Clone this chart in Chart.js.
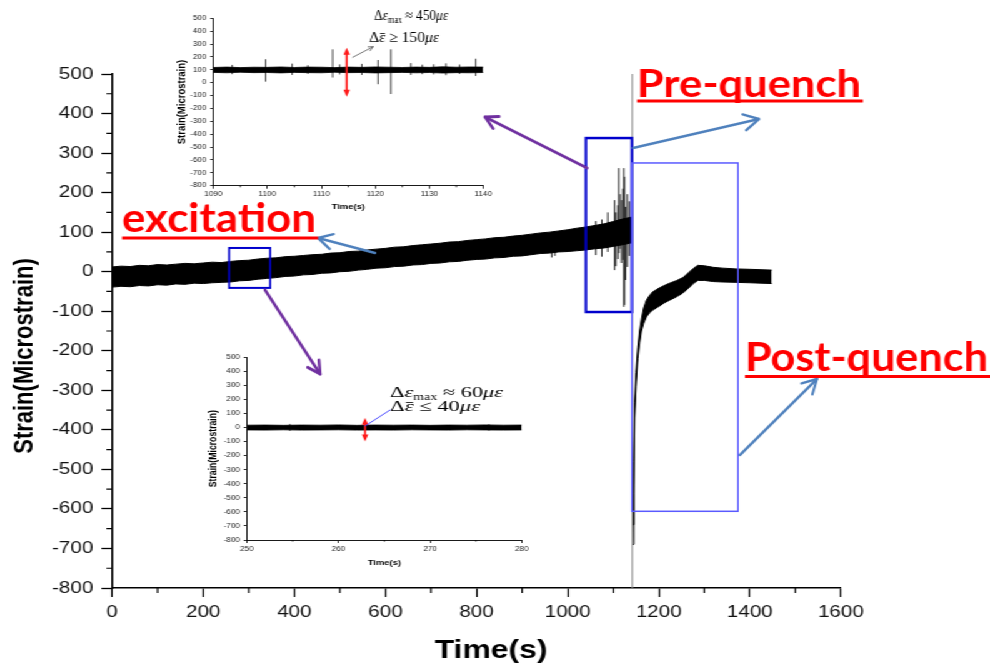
<!DOCTYPE html>
<html>
<head>
<meta charset="utf-8">
<title>Strain vs Time</title>
<script src="https://cdn.jsdelivr.net/npm/chart.js@4.4.1/dist/chart.umd.min.js"></script>
<style>
  html, body { margin:0; padding:0; background:#ffffff; overflow:hidden; }
  #stage { position:absolute; left:0; top:0; width:792px; height:665px; transform:scale(1.25,1); transform-origin:0 0; }
  #stage canvas { position:absolute; }
</style>
</head>
<body>
<div id="stage">
  <canvas id="mainChart" width="792" height="665" style="left:0px;top:0px;width:792px;height:665px;"></canvas>
  <canvas id="inset1" width="272" height="222" style="left:128px;top:0px;width:272px;height:222px;"></canvas>
  <canvas id="inset2" width="272" height="235" style="left:156px;top:340px;width:272px;height:235px;"></canvas>
</div>
<script>
// ================= DATA =================
// Main record: excitation phase (noise band envelopes)
const excTime  = [0,20,40,60,80,100,120,140,160,180,200,220,240,260,280,300,320,340,360,380,400,420,440,460,480,500,520,540,560,580,600,620,640,660,680,700,720,740,760,780,800,820,840,860,880,900,920,940,960,980,1000,1020,1040,1060,1080,1100,1120,1140];
const excUpper = [12,14,13,16,15,18,17,19,21,20,22,24,23,26,28,29,32,34,35,38,39,41,43,44,47,48,51,52,55,57,59,62,63,66,68,70,72,75,76,79,81,83,86,87,90,92,95,98,100,103,106,110,113,117,121,127,133,138];
const excLower = [-39,-37,-38,-35,-36,-33,-34,-31,-32,-29,-30,-28,-27,-26,-23,-22,-19,-17,-15,-12,-11,-8,-7,-4,-3,0,1,4,6,9,10,13,14,17,18,21,22,25,26,29,31,32,35,36,39,40,43,46,47,50,51,53,55,58,60,64,68,73];
// Post-quench recovery band
const postTime  = [1143,1145,1147,1150,1154,1158,1162,1167,1173,1180,1187,1200,1212,1224,1240,1253,1265,1276,1286,1300,1320,1340,1370,1400,1425,1448];
const postUpper = [-640,-480,-330,-255,-192,-150,-120,-92,-72,-60,-51,-42,-35,-29,-22,-15,-3,8,16,15,11,9,7,6,5,4];
const postLower = [-690,-560,-370,-290,-220,-180,-150,-130,-114,-104,-97,-88,-79,-72,-63,-54,-42,-30,-22,-22,-25,-26,-27,-28,-29,-30];
// Pre-quench spikes
const spikeTime   = [965,972,1062,1075,1088,1103,1106,1110,1112,1115,1118,1121,1123,1125,1127,1131,1135];
const spikeTop    = [98,96,128,132,150,181,150,168,262,196,181,210,262,240,164,196,178];
const spikeBottom = [36,40,42,38,50,4,14,32,47,58,22,30,-89,-84,-21,12,40];
// Quench instant
const quenchTime = 1142;
const quenchRange = [-800, 500];
// Main tick labels
const xMajorLabels = [0,200,400,600,800,1000,1200,1400,1600];
const yMajorLabels = [500,400,300,200,100,0,-100,-200,-300,-400,-500,-600,-700,-800];
const xTitle = 'Time(s)';
const yTitle = 'Strain(Microstrain)';

// Inset 1 (1090-1140 s)
const ins1Time  = [1090,1092.5,1095,1097.5,1100,1102.5,1105,1107.5,1110,1112.5,1115,1117.5,1120,1122.5,1125,1127.5,1130,1132.5,1135,1137.5,1140];
const ins1Upper = [118,121,117,120,119,122,118,121,120,117,121,119,122,120,118,121,119,123,120,122,121];
const ins1Lower = [80,77,81,78,79,76,80,78,77,81,78,79,76,78,80,77,79,75,78,77,79];
const ins1SpikeTime   = [1093.5,1099.7,1104.6,1107.5,1112.1,1113.4,1117.5,1120.5,1122.9,1126.6,1128.7,1130.8,1133.1,1135.6,1138.6];
const ins1SpikeTop    = [138,182,148,136,259,142,146,176,259,152,140,143,150,141,186];
const ins1SpikeBottom = [66,8,60,68,40,64,60,-12,-88,60,66,64,58,68,52];
const ins1XLabels = [1090,1100,1110,1120,1130,1140];
const ins1Delta = {t:1114.7, top:272, bottom:-109};

// Inset 2 (250-280 s)
const ins2Time  = [250,252,254,256,258,260,262,264,266,268,270,272,274,276,278,280];
const ins2Upper = [17,18,16,18,17,19,16,18,17,18,16,18,17,19,17,18];
const ins2Lower = [-17,-18,-16,-18,-17,-16,-18,-17,-18,-16,-17,-18,-16,-17,-18,-17];
const ins2SpikeTime   = [254.7,276.4];
const ins2SpikeTop    = [26,24];
const ins2SpikeBottom = [-24,-22];
const ins2XLabels = [250,260,270,280];
const ins2Delta = {t:262.9, top:70, bottom:-100};

// ================= HELPERS =================
const SX = 1.25; // horizontal stretch of the whole picture
const SANS = "'Liberation Sans', Arial, sans-serif";
Chart.defaults.font.family = SANS;
Chart.defaults.color = '#111';

const pts = (xs, ys) => xs.map((t, i) => ({x: t, y: ys[i]}));
function spikePts(ts, tops, bots) {
  const out = [];
  ts.forEach((t, i) => { out.push({x: t, y: bots[i]}, {x: t, y: tops[i]}, {x: t, y: null}); });
  return out;
}

function minorTicks(conf) {
  return {
    id: 'minorTicks',
    afterDraw(chart) {
      const ctx = chart.ctx, xs = chart.scales.x, ys = chart.scales.y;
      ctx.save();
      ctx.strokeStyle = '#000';
      ctx.lineWidth = conf.width;
      ctx.beginPath();
      xs.ticks.forEach(t => {
        if (!conf.xMajor.includes(t.value)) {
          const p = xs.getPixelForValue(t.value);
          ctx.moveTo(p, xs.top); ctx.lineTo(p, xs.top + conf.xLen);
        }
      });
      ys.ticks.forEach(t => {
        if (!conf.yMajor.includes(t.value)) {
          const p = ys.getPixelForValue(t.value);
          ctx.moveTo(ys.right, p); ctx.lineTo(ys.right - conf.yLen, p);
        }
      });
      ctx.stroke();
      ctx.restore();
    }
  };
}

function drawArrow(ctx, a) {
  ctx.save();
  ctx.strokeStyle = a.color; ctx.lineWidth = a.lw; ctx.lineCap = 'round'; ctx.lineJoin = 'round';
  ctx.beginPath(); ctx.moveTo(a.x1, a.y1); ctx.lineTo(a.x2, a.y2); ctx.stroke();
  if (a.head) {
    const ang = Math.atan2(a.y2 - a.y1, a.x2 - a.x1), sp = a.spread || 0.5;
    ctx.beginPath();
    ctx.moveTo(a.x2 - a.head * Math.cos(ang - sp), a.y2 - a.head * Math.sin(ang - sp));
    ctx.lineTo(a.x2, a.y2);
    ctx.lineTo(a.x2 - a.head * Math.cos(ang + sp), a.y2 - a.head * Math.sin(ang + sp));
    ctx.stroke();
  }
  ctx.restore();
}

function drawRedLabel(ctx, l) {
  ctx.save();
  ctx.font = `bold ${l.size}px Lato, 'Open Sans', sans-serif`;
  ctx.fillStyle = '#ff0000';
  ctx.textBaseline = 'alphabetic';
  const w = ctx.measureText(l.text).width;
  ctx.translate(l.x, l.base);
  ctx.scale(l.w / w, 1);
  ctx.fillText(l.text, 0, 0);
  ctx.restore();
  ctx.fillStyle = '#ff0000';
  ctx.fillRect(l.x, l.ul - 1.5, l.ulw, 3);
}

function drawRich(ctx, segs, x, base, size, targetW) {
  const fam = "'Liberation Serif','DejaVu Serif',serif";
  const fontFor = s => `${s.it ? 'italic ' : ''}${s.sub ? size * 0.62 : size}px ${fam}`;
  let w = 0;
  const ws = segs.map(s => { ctx.font = fontFor(s); const m = ctx.measureText(s.t).width; w += m; return m; });
  ctx.save();
  ctx.fillStyle = '#000';
  ctx.textBaseline = 'alphabetic';
  ctx.translate(x, base);
  ctx.scale(targetW / w, 1);
  let cx = 0;
  segs.forEach((s, i) => {
    ctx.font = fontFor(s);
    ctx.fillText(s.t, cx, s.sub ? size * 0.22 : 0);
    if (s.bar) ctx.fillRect(cx + ws[i] * 0.15, -size * 0.6, ws[i] * 0.8, Math.max(0.8, size * 0.05));
    cx += ws[i];
  });
  ctx.restore();
}

function drawDoubleArrow(ctx, x, yTop, yBot, color) {
  const hl = 7, hw = 3.2;
  ctx.save();
  ctx.strokeStyle = color; ctx.fillStyle = color; ctx.lineWidth = 2;
  ctx.beginPath(); ctx.moveTo(x, yTop + hl - 1); ctx.lineTo(x, yBot - hl + 1); ctx.stroke();
  ctx.beginPath(); ctx.moveTo(x, yTop); ctx.lineTo(x - hw, yTop + hl); ctx.lineTo(x + hw, yTop + hl); ctx.closePath(); ctx.fill();
  ctx.beginPath(); ctx.moveTo(x, yBot); ctx.lineTo(x - hw, yBot - hl); ctx.lineTo(x + hw, yBot - hl); ctx.closePath(); ctx.fill();
  ctx.restore();
}

// ================= ANNOTATIONS (page pixels / data coords) =================
const regionBoxes = [
  {t0: 257, t1: 347, v0: -41, v1: 60, color: '#0000cc', lw: 2},
  {t0: 1040, t1: 1141, v0: -102, v1: 338, color: '#0000cc', lw: 2.5},
  {t0: 1141, t1: 1374, v0: -606, v1: 275, color: '#5a5aff', lw: 1.5}
];
const pointerArrows = [
  {x1: 265, y1: 290, x2: 320, y2: 374, color: '#7030a0', lw: 3, head: 14},
  {x1: 587, y1: 168, x2: 485, y2: 117, color: '#7030a0', lw: 3, head: 14},
  {x1: 375, y1: 253, x2: 318, y2: 238, color: '#4f81bd', lw: 2.5, head: 16},
  {x1: 633, y1: 148, x2: 759, y2: 119, color: '#4f81bd', lw: 2.5, head: 17},
  {x1: 740, y1: 455, x2: 817, y2: 379, color: '#4f81bd', lw: 2.5, head: 16}
];
const redLabels = [
  {text: 'excitation', x: 122, base: 231.5, w: 194, size: 40, ul: 238, ulw: 196},
  {text: 'Pre-quench', x: 637, base: 96.5, w: 224, size: 38, ul: 101, ulw: 226},
  {text: 'Post-quench', x: 745, base: 371, w: 243, size: 40, ul: 376.5, ulw: 246}
];
// axis titles: centre positions in page pixels
const axisTitlePos = {x: {cx: 491, cy: 651, size: 25.5}, y: {cx: 25, cy: 356, size: 22}};

const mainAnnot = {
  id: 'mainAnnot',
  afterDraw(chart) {
    const {ctx, scales: {x, y}} = chart;
    // axis titles (stretched with the picture)
    ctx.save();
    ctx.fillStyle = '#000';
    ctx.textAlign = 'center'; ctx.textBaseline = 'middle';
    ctx.font = `bold ${axisTitlePos.x.size}px ${SANS}`;
    ctx.fillText(xTitle, axisTitlePos.x.cx / SX, axisTitlePos.x.cy);
    ctx.translate(axisTitlePos.y.cx / SX, axisTitlePos.y.cy);
    ctx.rotate(-Math.PI / 2);
    ctx.font = `bold ${axisTitlePos.y.size}px ${SANS}`;
    ctx.fillText(yTitle, 0, 0);
    ctx.restore();

    ctx.save();
    ctx.scale(1 / SX, 1);
    const X = v => x.getPixelForValue(v) * SX, Y = v => y.getPixelForValue(v);
    regionBoxes.forEach(b => {
      ctx.strokeStyle = b.color; ctx.lineWidth = b.lw;
      ctx.strokeRect(X(b.t0), Y(b.v1), X(b.t1) - X(b.t0), Y(b.v0) - Y(b.v1));
    });
    pointerArrows.forEach(a => drawArrow(ctx, a));
    redLabels.forEach(l => drawRedLabel(ctx, l));
    ctx.restore();
  }
};

function insetAnnot(conf) {
  return {
    id: 'insetAnnot',
    afterDraw(chart) {
      const {ctx, scales: {x, y}} = chart;
      ctx.save();
      ctx.scale(1 / SX, 1);
      const dx = conf.left, dy = conf.top;
      drawDoubleArrow(ctx, x.getPixelForValue(conf.delta.t) * SX, y.getPixelForValue(conf.delta.top), y.getPixelForValue(conf.delta.bottom), '#ff1a1a');
      conf.texts.forEach(tx => drawRich(ctx, tx.segs, tx.x - dx, tx.base - dy, tx.size, tx.w));
      const p = conf.pointer;
      drawArrow(ctx, {x1: p.x1 - dx, y1: p.y1 - dy, x2: p.x2 - dx, y2: p.y2 - dy, color: p.color, lw: p.lw, head: p.head, spread: 0.45});
      ctx.restore();
    }
  };
}

// ================= MAIN CHART =================
new Chart(document.getElementById('mainChart'), {
  type: 'line',
  data: {
    datasets: [
      {data: pts(excTime, excLower), borderColor: '#000', borderWidth: 1, pointRadius: 0, fill: false},
      {data: pts(excTime, excUpper), borderColor: '#000', borderWidth: 1, pointRadius: 0, fill: '-1', backgroundColor: '#000'},
      {data: pts(postTime, postLower), borderColor: '#000', borderWidth: 1, pointRadius: 0, fill: false},
      {data: pts(postTime, postUpper), borderColor: '#000', borderWidth: 1, pointRadius: 0, fill: '-1', backgroundColor: '#000'},
      {data: spikePts(spikeTime, spikeTop, spikeBottom), borderColor: '#222', borderWidth: 1, pointRadius: 0, spanGaps: false, fill: false},
      {data: [{x: quenchTime, y: quenchRange[0]}, {x: quenchTime, y: quenchRange[1]}], borderColor: '#8a8a8a', borderWidth: 1, pointRadius: 0, fill: false}
    ]
  },
  options: {
    responsive: false, animation: false, devicePixelRatio: 1,
    layout: {padding: {left: 0, right: 119.2, top: 74, bottom: 0}},
    plugins: {legend: {display: false}, tooltip: {enabled: false}},
    elements: {line: {tension: 0}},
    scales: {
      x: {
        type: 'linear', min: 0, max: 1600,
        ticks: {stepSize: 100, autoSkip: false, maxRotation: 0, minRotation: 0, padding: 6,
          font: {size: 16.5}, color: '#111',
          callback: v => xMajorLabels.includes(v) ? String(v) : ''},
        grid: {drawOnChartArea: false, drawTicks: true, tickLength: 9, tickWidth: 1.2,
          tickColor: c => (c.tick && xMajorLabels.includes(c.tick.value)) ? '#000' : 'rgba(0,0,0,0)'},
        border: {display: true, color: '#000', width: 1.5},
        title: {display: false, text: xTitle},
        afterFit: s => { s.height = 77; }
      },
      y: {
        type: 'linear', min: -800, max: 500,
        ticks: {stepSize: 50, autoSkip: false, padding: 6.5, font: {size: 16.5}, color: '#111',
          callback: v => yMajorLabels.includes(v) ? String(v) : ''},
        grid: {drawOnChartArea: false, drawTicks: true, tickLength: 8.5, tickWidth: 1.3,
          tickColor: c => (c.tick && yMajorLabels.includes(c.tick.value)) ? '#000' : 'rgba(0,0,0,0)'},
        border: {display: true, color: '#000', width: 1.5},
        title: {display: false, text: yTitle},
        afterFit: s => { s.width = 89.6; }
      }
    }
  },
  plugins: [minorTicks({xMajor: xMajorLabels, yMajor: yMajorLabels, xLen: 5, yLen: 4.5, width: 1.2}), mainAnnot]
});

// ================= INSETS =================
function makeInset(id, o) {
  return new Chart(document.getElementById(id), {
    type: 'line',
    data: {
      datasets: [
        {data: pts(o.time, o.lower), borderColor: '#000', borderWidth: 0.8, pointRadius: 0, fill: false},
        {data: pts(o.time, o.upper), borderColor: '#000', borderWidth: 0.8, pointRadius: 0, fill: '-1', backgroundColor: '#000'},
        {data: spikePts(o.spikeTime, o.spikeTop, o.spikeBottom), borderColor: '#111', borderWidth: 0.8, pointRadius: 0, spanGaps: false, fill: false}
      ]
    },
    options: {
      responsive: false, animation: false, devicePixelRatio: 1,
      layout: {padding: {left: 0, right: o.padRight, top: o.padTop, bottom: 0}},
      plugins: {legend: {display: false}, tooltip: {enabled: false}},
      elements: {line: {tension: 0}},
      scales: {
        x: {
          type: 'linear', min: o.xmin, max: o.xmax,
          ticks: {stepSize: 5, autoSkip: false, maxRotation: 0, minRotation: 0, padding: o.xPad,
            font: {size: 6.5}, color: '#222', callback: v => o.xLabels.includes(v) ? String(v) : ''},
          grid: {drawOnChartArea: false, tickLength: 3, tickWidth: 0.8,
            tickColor: c => (c.tick && o.xLabels.includes(c.tick.value)) ? '#000' : 'rgba(0,0,0,0)'},
          border: {display: true, color: '#000', width: 0.9},
          title: {display: true, text: xTitle, color: '#000', font: {size: 7.5, weight: 'bold', lineHeight: 1}, padding: {top: 0, bottom: o.xTitlePad}},
          afterFit: s => { s.height = o.xHeight; }
        },
        y: {
          type: 'linear', min: -800, max: 500,
          ticks: {stepSize: 100, autoSkip: false, padding: 3, font: {size: 6.5}, color: '#222'},
          grid: {drawOnChartArea: false, tickLength: 2.5, tickWidth: 0.8, tickColor: '#000'},
          border: {display: true, color: '#000', width: 0.9},
          title: {display: true, text: yTitle, color: '#000', font: {size: o.yTitleSize, weight: 'bold', lineHeight: 1}, padding: {top: o.yTitlePad, bottom: 0}},
          afterFit: s => { s.width = o.yWidth; }
        }
      }
    },
    plugins: [minorTicks({xMajor: o.xLabels, yMajor: [], xLen: 1.6, yLen: 0, width: 0.8}), insetAnnot(o.annot)]
  });
}

makeInset('inset1', {
  time: ins1Time, upper: ins1Upper, lower: ins1Lower,
  spikeTime: ins1SpikeTime, spikeTop: ins1SpikeTop, spikeBottom: ins1SpikeBottom,
  xmin: 1090, xmax: 1140, xLabels: ins1XLabels,
  padRight: 13.4, padTop: 18.3, xHeight: 36.3, yWidth: 42.6, xPad: 1.4, xTitlePad: 11.5,
  yTitleSize: 9.5, yTitlePad: 12.6,
  annot: {
    left: 160, top: 0, delta: ins1Delta,
    texts: [
      {segs: [{t: 'Δ'}, {t: 'ε', it: 1}, {t: 'max', sub: 1}, {t: ' ≈ 450'}, {t: 'με', it: 1}], x: 374, base: 20, size: 15, w: 74},
      {segs: [{t: 'Δ'}, {t: 'ε', it: 1, bar: 1}, {t: ' ≥ 150'}, {t: 'με', it: 1}], x: 369, base: 42, size: 15, w: 70}
    ],
    pointer: {x1: 352.7, y1: 57.3, x2: 373, y2: 46.7, color: '#444', lw: 0.8, head: 5}
  }
});

makeInset('inset2', {
  time: ins2Time, upper: ins2Upper, lower: ins2Lower,
  spikeTime: ins2SpikeTime, spikeTop: ins2SpikeTop, spikeBottom: ins2SpikeBottom,
  xmin: 250, xmax: 280, xLabels: ins2XLabels,
  padRight: 10.6, padTop: 17.3, xHeight: 35, yWidth: 41.4, xPad: 2.1, xTitlePad: 8.25,
  yTitleSize: 8.7, yTitlePad: 10.3,
  annot: {
    left: 195, top: 340, delta: ins2Delta,
    texts: [
      {segs: [{t: 'Δ'}, {t: 'ε', it: 1}, {t: 'max', sub: 1}, {t: ' ≈ 60'}, {t: 'με', it: 1}], x: 390, base: 397, size: 15, w: 113},
      {segs: [{t: 'Δ'}, {t: 'ε', it: 1, bar: 1}, {t: ' ≤ 40'}, {t: 'με', it: 1}], x: 390, base: 411, size: 15, w: 90}
    ],
    pointer: {x1: 365, y1: 426, x2: 390, y2: 410, color: '#3a3aff', lw: 1, head: 0}
  }
});
</script>
</body>
</html>
